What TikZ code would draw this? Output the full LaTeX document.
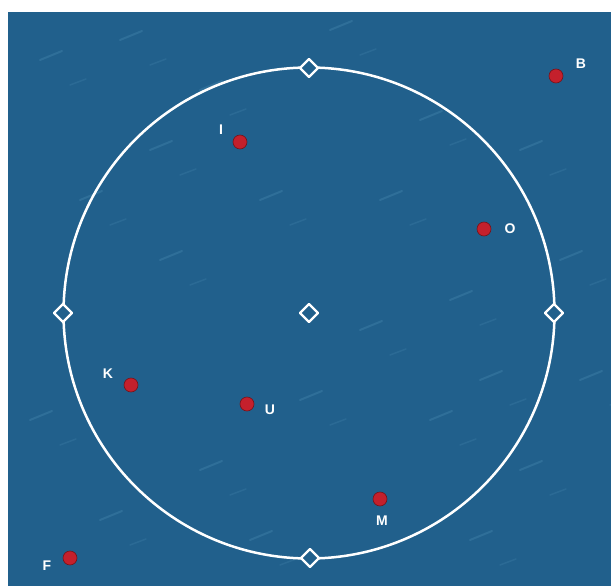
\documentclass[tikz,border=0pt]{standalone}
\usepackage{fontspec}
\setmainfont{Liberation Sans}
\definecolor{bg}{HTML}{21608C}
\definecolor{streak}{HTML}{5A9CC0}
\definecolor{dotred}{HTML}{C4202C}
\begin{document}
\begin{tikzpicture}[x=1pt,y=-1pt,
  reddot/.style={circle,fill=dotred,draw=dotred!60!black,line width=0.6pt,minimum size=14pt,inner sep=0pt},
  lbl/.style={text=white,font=\fontsize{14}{14}\selectfont\bfseries,inner sep=0pt}]
\useasboundingbox (0,0) rectangle (611,586);
\fill[white] (0,0) rectangle (611,586);
\fill[bg] (8,12) rectangle (611,586);
% faint streak texture
\foreach \x/\y in {40/60,120/40,200/90,330/30,420/120,520/150,80/200,160/260,380/200,450/300,560/260,30/420,200/470,300/400,430/420,520/470,100/520,250/540,470/540,580/380,260/200,150/150,360/330,480/380}{
  \draw[streak,opacity=0.25,line width=2pt,line cap=round] (\x,\y) -- ++(22,-9);
  \draw[streak,opacity=0.18,line width=1.5pt,line cap=round] (\x+30,\y+25) -- ++(16,-6);
}
\coordinate (C) at (309,313);
\node[circle,draw=white,line width=2.5pt,minimum size=491pt,inner sep=0pt] (ring) at (C) {};
\foreach \n/\x/\y in {dt/309/68,dl/63/313,dr/554/313,db/310/558,dc/309/313}{
  \path[draw=white,fill=bg,line width=2.2pt,line join=round] (\x,\y-9) -- (\x+9,\y) -- (\x,\y+9) -- (\x-9,\y) -- cycle;
  \coordinate (\n) at (\x,\y);
}
\node[reddot] (b) at (556,76) {};
\node[lbl] (bl) at (581,64) {B};
\node[reddot] (i) at (240,142) {};
\node[lbl] (il) at (221,130) {I};
\node[reddot] (o) at (484,229) {};
\node[lbl] (ol) at (510,229) {O};
\node[reddot] (k) at (131,385) {};
\node[lbl] (kl) at (108,374) {K};
\node[reddot] (u) at (247,404) {};
\node[lbl] (ul) at (270,410) {U};
\node[reddot] (m) at (380,499) {};
\node[lbl] (ml) at (382,521) {M};
\node[reddot] (f) at (70,558) {};
\node[lbl] (fl) at (47,566) {F};
\end{tikzpicture}
\end{document}
